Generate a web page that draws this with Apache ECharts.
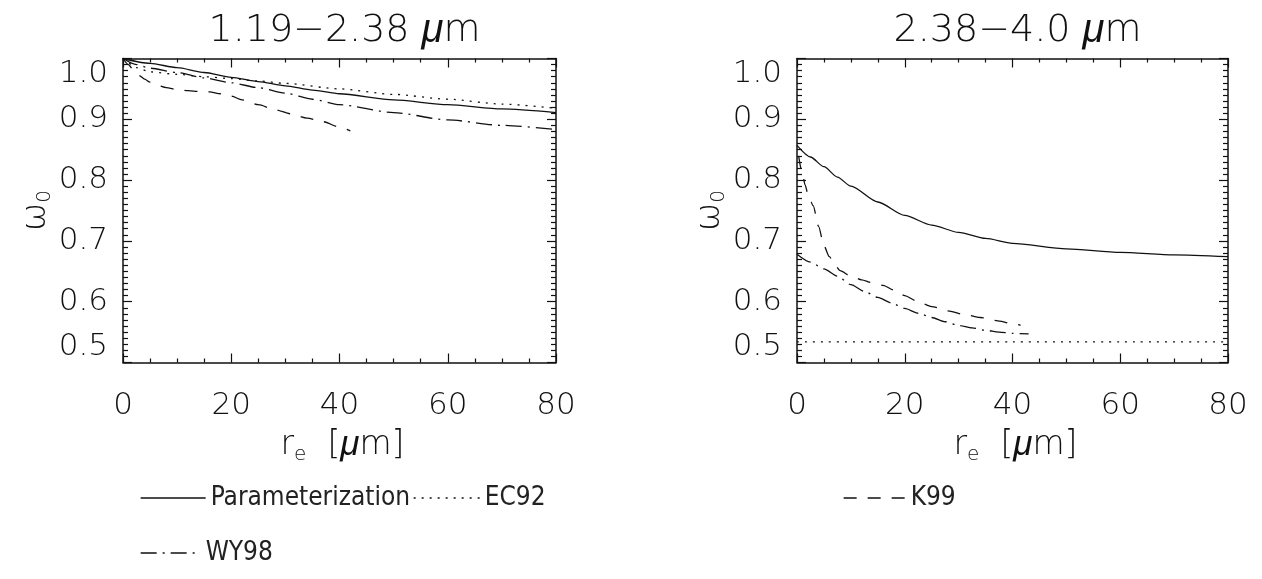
<!DOCTYPE html>
<html>
<head>
<meta charset="utf-8">
<script src="https://cdn.jsdelivr.net/npm/echarts@6/dist/echarts.min.js"></script>
<style>
html,body{margin:0;padding:0;background:#fff;}
#c{width:1262px;height:579px;}
</style>
</head>
<body>
<div id="c"></div>
<script>
// ---- data ----
const xTicks = [0, 20, 40, 60, 80];
const yTicks = [0.5, 0.6, 0.7, 0.8, 0.9, 1.0];

// Left panel: 1.19-2.38 um
const leftParamRe = [0, 5, 10, 15, 20, 25, 30, 35, 40, 50, 60, 70, 80];
const leftParamW  = [1.0, 0.992, 0.985, 0.977, 0.969, 0.962, 0.955, 0.948, 0.942, 0.932, 0.924, 0.917, 0.911];
const leftEC92Re  = [0, 1, 2.5, 5, 10, 15, 20, 25, 30, 40, 50, 60, 70, 80];
const leftEC92W   = [1.0, 0.992, 0.985, 0.978, 0.974, 0.970, 0.967, 0.963, 0.959, 0.950, 0.941, 0.933, 0.925, 0.918];
const leftK99Re   = [0, 1, 2, 3, 4, 5, 6, 8, 10, 12, 14, 16, 18, 20, 22, 25, 28, 31, 34, 37, 40, 42];
const leftK99W    = [1.0, 0.99, 0.98, 0.972, 0.966, 0.961, 0.957, 0.952, 0.949, 0.947, 0.946, 0.945, 0.942, 0.938, 0.932, 0.924, 0.916, 0.909, 0.902, 0.896, 0.887, 0.881];
const leftWY98Re  = [0, 2.5, 5, 10, 15, 20, 25, 30, 35, 40, 50, 60, 70, 80];
const leftWY98W   = [1.0, 0.99, 0.984, 0.977, 0.968, 0.960, 0.952, 0.943, 0.933, 0.924, 0.911, 0.899, 0.890, 0.883];

// Right panel: 2.38-4.0 um
const rightParamRe = [0, 2.5, 5, 7.5, 10, 15, 20, 25, 30, 35, 40, 50, 60, 70, 80];
const rightParamW  = [0.857, 0.838, 0.822, 0.805, 0.790, 0.764, 0.742, 0.726, 0.714, 0.704, 0.696, 0.687, 0.681, 0.677, 0.674];
const rightEC92Re  = [0, 20, 40, 60, 80];
const rightEC92W   = [0.534, 0.534, 0.534, 0.534, 0.534];
const rightK99Re   = [0.3, 1, 1.5, 2, 3, 4, 5, 6, 7, 8, 10, 12, 14, 16, 18, 20, 22, 25, 28, 31, 34, 37, 40, 41.5];
const rightK99W    = [0.84, 0.81, 0.792, 0.778, 0.758, 0.724, 0.692, 0.674, 0.661, 0.651, 0.642, 0.636, 0.631, 0.627, 0.619, 0.610, 0.602, 0.592, 0.585, 0.579, 0.574, 0.569, 0.564, 0.561];
const rightWY98Re  = [0, 2.5, 5, 7.5, 10, 12.5, 15, 17.5, 20, 22.5, 25, 27.5, 30, 32.5, 35, 37.5, 40, 43];
const rightWY98W   = [0.678, 0.665, 0.654, 0.642, 0.628, 0.617, 0.607, 0.598, 0.589, 0.581, 0.574, 0.567, 0.561, 0.557, 0.553, 0.550, 0.548, 0.547];

const seriesNames = ['Parameterization', 'EC92', 'K99', 'WY98'];
const panelTitles = ['1.19\u22122.38 ', '2.38\u22124.0 '];

// ---- styles ----
const FONT = "'DejaVu Sans', 'Liberation Sans', sans-serif";
const MUFONT = "'Liberation Sans', 'DejaVu Sans', sans-serif";
const LFONT = "'DejaVu Sans Condensed', 'Liberation Sans Narrow', 'DejaVu Sans', sans-serif";
const INK = '#111';
const dashTypes = {
  'Parameterization': 'solid',
  'EC92': [2, 6],
  'K99': [13, 11],
  'WY98': [16, 6, 2, 6]
};

function zip(xs, ys) { return xs.map((x, i) => [x, ys[i]]); }

const grids = [
  { left: 123, top: 58.5, width: 433, height: 304, containLabel: false, outerBoundsMode: 'none' },
  { left: 797, top: 58.5, width: 431, height: 304, containLabel: false, outerBoundsMode: 'none' }
];

const richName = {
  w: { fontSize: 34, fontFamily: FONT, color: INK, lineHeight: 38, fontWeight: 200 },
  s: { fontSize: 20, fontFamily: FONT, color: INK, lineHeight: 22, verticalAlign: 'bottom', fontWeight: 200 },
  r: { fontSize: 33, fontFamily: FONT, color: INK, lineHeight: 38, fontWeight: 200 },
  e: { fontSize: 20, fontFamily: FONT, color: INK, lineHeight: 20, verticalAlign: 'bottom', fontWeight: 200 },
  mu: { fontSize: 35, fontFamily: MUFONT, color: INK, lineHeight: 38, fontStyle: 'italic', fontWeight: 'normal' }
};

function xAxisPair(gi) {
  const base = {
    gridIndex: gi, type: 'value', min: xTicks[0], max: xTicks[xTicks.length - 1], interval: xTicks[1] - xTicks[0],
    splitLine: { show: false },
    axisLine: { show: true, onZero: false, lineStyle: { color: INK, width: 1.5 } },
    axisTick: { show: true, inside: true, length: 9, lineStyle: { color: INK, width: 1.2 } },
    minorTick: { show: true, splitNumber: 4, length: 4, lineStyle: { color: INK, width: 1.2 } },
    minorSplitLine: { show: false }
  };
  return [
    Object.assign({}, base, {
      position: 'bottom',
      axisLabel: { show: true, margin: 28, fontSize: 31, fontFamily: FONT, fontWeight: 200, color: INK, formatter: v => String(v) },
      name: '{r|r}{e|e}{r|  [}{mu|\u03bc}{r|m]}',
      nameLocation: 'middle', nameGap: 64,
      nameTextStyle: { rich: richName, padding: [0, 0, 0, 6] }
    }),
    Object.assign({}, base, { position: 'top', axisLabel: { show: false } })
  ];
}

function yAxisPair(gi) {
  const base = {
    gridIndex: gi, type: 'value', min: yTicks[0], max: yTicks[yTicks.length - 1], interval: 0.1,
    splitLine: { show: false },
    axisLine: { show: true, onZero: false, lineStyle: { color: INK, width: 1.5 } },
    axisTick: { show: true, inside: true, length: 9, lineStyle: { color: INK, width: 1.2 } },
    minorTick: { show: true, splitNumber: 10, length: 5, lineStyle: { color: INK, width: 1.2 } },
    minorSplitLine: { show: false }
  };
  return [
    Object.assign({}, base, {
      position: 'left',
      axisLabel: {
        show: true, margin: 15, fontSize: 31, fontFamily: FONT, fontWeight: 200, color: INK,
        formatter: v => v.toFixed(1),
        verticalAlignMinLabel: 'bottom', verticalAlignMaxLabel: 'top'
      },
      name: '{w|\u03c9}{s|0}',
      nameLocation: 'middle', nameRotate: 90, nameGap: 68,
      nameTextStyle: { rich: richName }
    }),
    Object.assign({}, base, { position: 'right', axisLabel: { show: false } })
  ];
}

const xAxes = [...xAxisPair(0), ...xAxisPair(1)];
const yAxes = [...yAxisPair(0), ...yAxisPair(1)];

const panelData = [
  { 'Parameterization': zip(leftParamRe, leftParamW), 'EC92': zip(leftEC92Re, leftEC92W), 'K99': zip(leftK99Re, leftK99W), 'WY98': zip(leftWY98Re, leftWY98W) },
  { 'Parameterization': zip(rightParamRe, rightParamW), 'EC92': zip(rightEC92Re, rightEC92W), 'K99': zip(rightK99Re, rightK99W), 'WY98': zip(rightWY98Re, rightWY98W) }
];

const series = [];
panelData.forEach((pd, p) => {
  seriesNames.forEach(name => {
    series.push({
      name: name, type: 'line',
      xAxisIndex: p * 2, yAxisIndex: p * 2,
      data: pd[name],
      showSymbol: false, symbol: 'none',
      smooth: 0.25, smoothMonotone: 'x',
      lineStyle: { color: INK, width: 1.3, type: dashTypes[name] },
      itemStyle: { color: INK },
      emphasis: { disabled: true },
      animation: false
    });
  });
});

function leg(name, left, top, w) {
  return {
    data: [name], left: left, top: top, padding: 0, itemGap: 0,
    itemWidth: w, itemHeight: 16, selectedMode: false,
    textStyle: { fontSize: 26, fontFamily: LFONT, fontWeight: 200, color: '#222' },
    itemStyle: { color: 'rgba(0,0,0,0)', borderColor: 'rgba(0,0,0,0)', borderWidth: 0, opacity: 0 },
    lineStyle: { width: 1.3, color: INK, opacity: 1 }
  };
}

const titleRich = { mu: { fontSize: 40, fontFamily: MUFONT, fontStyle: 'italic', fontWeight: 'normal', color: INK } };

const option = {
  backgroundColor: '#fff',
  animation: false,
  title: [
    { text: panelTitles[0] + '{mu|\u03bc}m', left: 339.5, top: 6, textAlign: 'center',
      textStyle: { fontSize: 38, fontFamily: FONT, fontWeight: 200, color: INK, rich: titleRich } },
    { text: panelTitles[1] + '{mu|\u03bc}m', left: 1012.5, top: 6, textAlign: 'center',
      textStyle: { fontSize: 38, fontFamily: FONT, fontWeight: 200, color: INK, rich: titleRich } }
  ],
  legend: [
    leg('Parameterization', 140, 485, 65),
    leg('EC92', 413, 485, 66),
    leg('K99', 843, 485, 62),
    leg('WY98', 140, 540, 60)
  ],
  grid: grids,
  xAxis: xAxes,
  yAxis: yAxes,
  series: series
};

const chart = echarts.init(document.getElementById('c'), null, { renderer: 'canvas' });
chart.setOption(option);
</script>
</body>
</html>
